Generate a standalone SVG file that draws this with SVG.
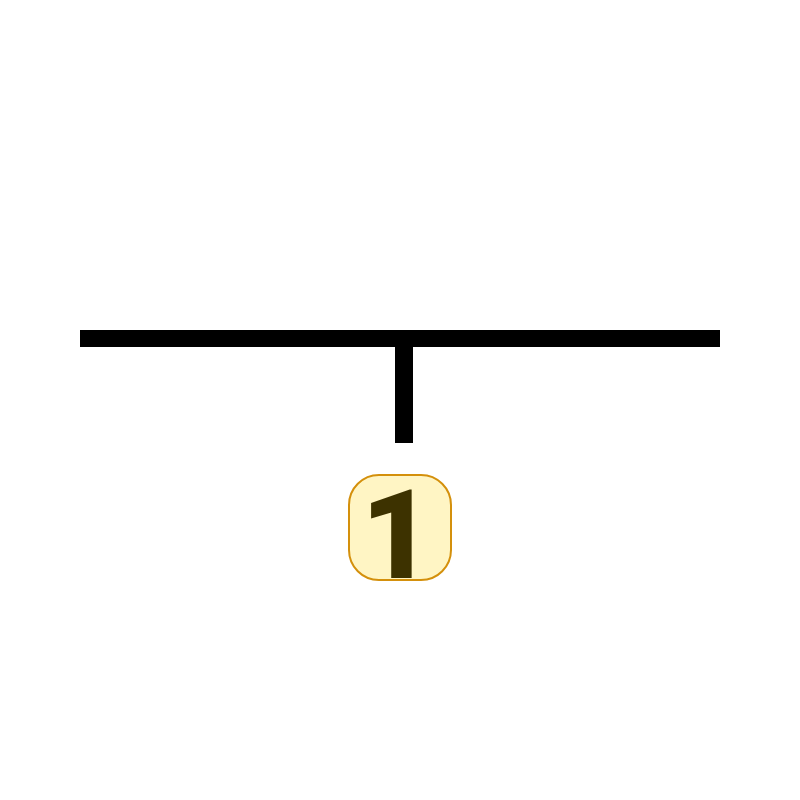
<svg xmlns="http://www.w3.org/2000/svg" width="800" height="800" viewBox="0 0 800 800">
<style>
.bar{fill:#000}
.badge{fill:#fff5c4;stroke:#d4900c;stroke-width:2}
.lbl{font-weight:900;fill:#3d3200}
</style>
<rect width="800" height="800" fill="#fff"/>
<g id="connectors">
<rect class="bar" x="80" y="330" width="640" height="17"/>
<rect class="bar" x="395" y="346" width="18" height="97"/>
</g>
<g id="node1">
<rect class="badge" x="349" y="475" width="102" height="105" rx="30"/>
<text class="lbl" x="397" y="578" font-size="124" text-anchor="middle" font-family="Roboto, sans-serif">1</text>
</g>
</svg>
